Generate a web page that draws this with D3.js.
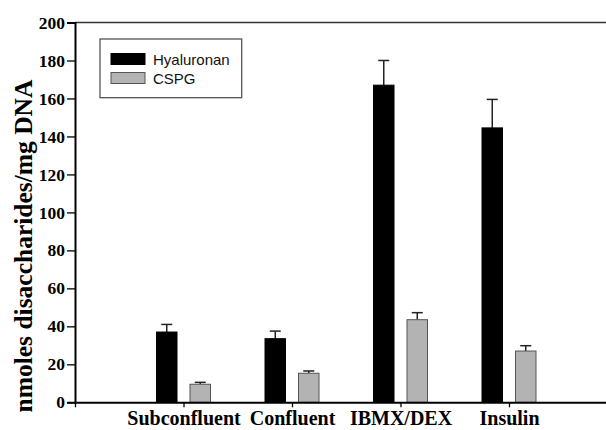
<!DOCTYPE html>
<html>
<head>
<meta charset="utf-8">
<script src="https://cdn.jsdelivr.net/npm/d3@7"></script>
<style>
  body { margin: 0; background: #fff; }
  svg { display: block; }
  .serif { font-family: "Liberation Serif", "Times New Roman", serif; font-weight: bold; }
</style>
</head>
<body>
<svg id="chart"></svg>
<script>
// data
const categories = ["Subconfluent", "Confluent", "IBMX/DEX", "Insulin"];
const seriesNames = ["Hyaluronan", "CSPG"];
const hyaluronan = [37, 33.5, 167, 144.5];
const hyaluronanErr = [41, 37.5, 180, 159.5];
const cspg = [9.5, 15.3, 43.5, 27];
const cspgErr = [10.5, 16.5, 47.2, 29.8];
const yTicks = [0, 20, 40, 60, 80, 100, 120, 140, 160, 180, 200];

const width = 606, height = 430;
const svg = d3.select("#chart").attr("width", width).attr("height", height);

// axes geometry
const plotLeft = 75, plotTop = 22.5, plotBottom = 402.3;

const y = d3.scaleLinear().domain([0, 200]).range([plotBottom, plotTop]);
// categories sit at 1..4 on a 0..5 axis that runs past the right edge
const x = d3.scaleLinear().domain([0, 5]).range([plotLeft, 617.5]);
const inner = d3.scaleBand().domain(seriesNames).range([-27, 27]).paddingInner(0.388);

const colors = { Hyaluronan: "#000", CSPG: "#b3b3b3" };

const rows = categories.map((c, i) => ({
  cat: c, idx: i + 1,
  vals: [
    { s: "Hyaluronan", v: hyaluronan[i], e: hyaluronanErr[i] },
    { s: "CSPG", v: cspg[i], e: cspgErr[i] }
  ]
}));

// top frame line
svg.append("line")
  .attr("x1", plotLeft).attr("x2", width)
  .attr("y1", plotTop).attr("y2", plotTop)
  .attr("stroke", "#333").attr("stroke-width", 1.6);

// bars + error bars
const groups = svg.append("g").selectAll("g")
  .data(rows).enter().append("g")
  .attr("transform", d => `translate(${x(d.idx)},0)`);

groups.selectAll("line.err")
  .data(d => d.vals).enter().append("line")
  .attr("class", "err")
  .attr("x1", d => inner(d.s) + inner.bandwidth() / 2)
  .attr("x2", d => inner(d.s) + inner.bandwidth() / 2)
  .attr("y1", d => y(d.v)).attr("y2", d => y(d.e))
  .attr("stroke", "#222").attr("stroke-width", 1.5);

groups.selectAll("line.cap")
  .data(d => d.vals).enter().append("line")
  .attr("class", "cap")
  .attr("x1", d => inner(d.s) + inner.bandwidth() / 2 - 5.5)
  .attr("x2", d => inner(d.s) + inner.bandwidth() / 2 + 5.5)
  .attr("y1", d => y(d.e)).attr("y2", d => y(d.e))
  .attr("stroke", "#222").attr("stroke-width", 1.5);

groups.selectAll("rect")
  .data(d => d.vals).enter().append("rect")
  .attr("x", d => inner(d.s))
  .attr("width", inner.bandwidth())
  .attr("y", d => y(d.v))
  .attr("height", d => y(0) - y(d.v))
  .attr("fill", d => colors[d.s])
  .attr("stroke", d => d.s === "CSPG" ? "#555" : "#000")
  .attr("stroke-width", 1);

// y axis
const yAxis = svg.append("g")
  .attr("transform", `translate(${plotLeft},0)`)
  .call(d3.axisLeft(y).tickValues(yTicks).tickSize(8).tickPadding(2));
yAxis.attr("font-family", null);
yAxis.select(".domain").attr("stroke", "#000").attr("stroke-width", 2);
yAxis.selectAll(".tick line").attr("stroke", "#000").attr("stroke-width", 1.3);
yAxis.selectAll("text")
  .attr("class", "serif")
  .style("font-size", "17.5px").attr("fill", "#000");

// x axis
const xAxis = svg.append("g")
  .attr("transform", `translate(0,${plotBottom})`)
  .call(d3.axisBottom(x).tickValues([0, 1, 2, 3, 4])
    .tickSize(5).tickSizeOuter(0).tickPadding(4)
    .tickFormat(d => d === 0 ? "" : categories[d - 1]));
xAxis.attr("font-family", null);
xAxis.select(".domain").attr("stroke", "#000").attr("stroke-width", 2);
xAxis.selectAll(".tick line").attr("stroke", "#000").attr("stroke-width", 1.3);
xAxis.selectAll("text")
  .attr("class", "serif")
  .style("font-size", "20px").attr("fill", "#000");

// y label
svg.append("text")
  .attr("class", "serif")
  .attr("transform", `translate(32,246) rotate(-90)`)
  .attr("text-anchor", "middle")
  .style("font-size", "25.5px")
  .text("nmoles disaccharides/mg DNA");

// legend
const legend = svg.append("g");
legend.append("rect")
  .attr("x", 100).attr("y", 39).attr("width", 141.7).attr("height", 58.7)
  .attr("fill", "#fff").attr("stroke", "#555").attr("stroke-width", 1.3);
const item = legend.selectAll("g.item")
  .data(seriesNames).enter().append("g")
  .attr("transform", (d, i) => `translate(111,${53.5 + i * 19})`);
item.append("rect")
  .attr("width", 34).attr("height", 11)
  .attr("fill", d => colors[d])
  .attr("stroke", d => d === "CSPG" ? "#555" : "#000");
item.append("text")
  .attr("x", 42).attr("y", 11)
  .attr("font-family", "'Liberation Sans', Arial, sans-serif")
  .attr("font-size", 15).attr("fill", "#111")
  .text(d => d);
</script>
</body>
</html>
